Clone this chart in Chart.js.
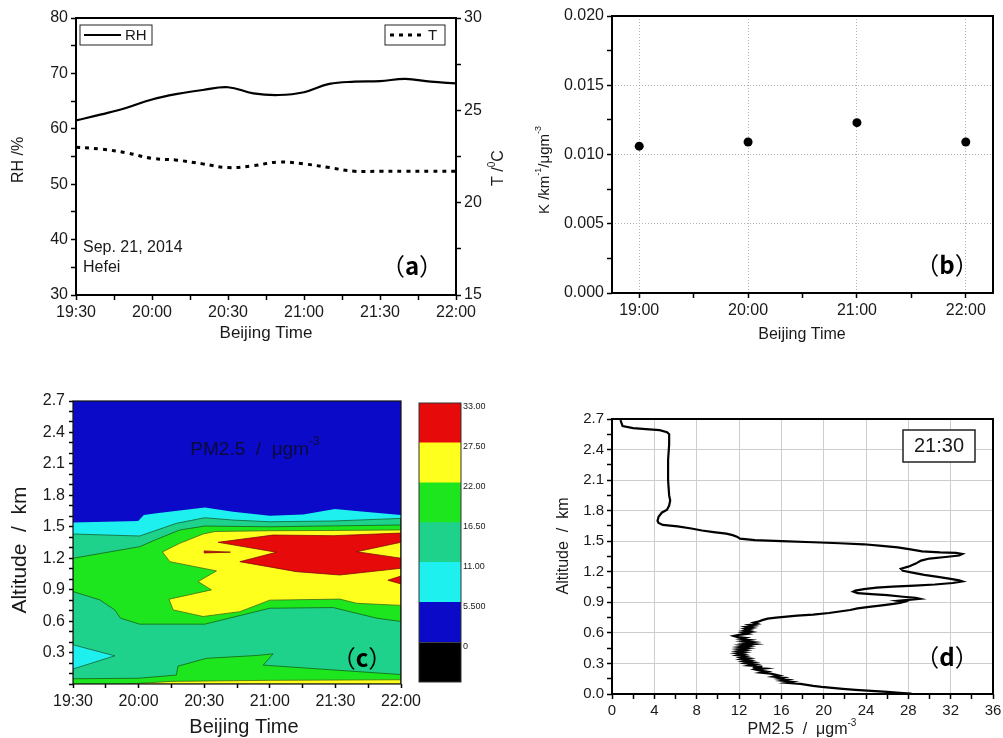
<!DOCTYPE html>
<html>
<head>
<meta charset="utf-8">
<script src="https://cdn.jsdelivr.net/npm/chart.js@4.4.1/dist/chart.umd.min.js"></script>
<style>
  body { margin: 0; background: #fff; }
  #page { position: relative; width: 1003px; height: 738px; overflow: hidden; background: #fff; }
  #page canvas { position: absolute; }
</style>
</head>
<body>
<div id="page">
  <canvas id="chartA" width="512" height="350" style="left:0;top:0"></canvas>
  <canvas id="chartB" width="503" height="350" style="left:500px;top:0"></canvas>
  <canvas id="chartC" width="430" height="358" style="left:0;top:380px"></canvas>
  <canvas id="chartBar" width="98" height="358" style="left:405px;top:380px"></canvas>
  <canvas id="chartD" width="503" height="358" style="left:500px;top:380px"></canvas>
</div>
<script>
// ---- (a) RH and temperature, Sep. 21, 2014, Hefei
const timesA = ['19:30', '19:40', '19:50', '20:00', '20:10', '20:20', '20:30', '20:40',
                '20:50', '21:00', '21:10', '21:20', '21:30', '21:40', '21:50', '22:00'];
const rhA = [61.5, 62.6, 63.8, 65.3, 66.3, 67.0, 67.5, 66.4, 66.1, 66.6, 68.1, 68.5, 68.6, 69.0, 68.5, 68.2];
const tempA = [23.0, 22.9, 22.7, 22.4, 22.3, 22.1, 21.9, 22.0, 22.2, 22.1, 21.9, 21.7, 21.7, 21.7, 21.7, 21.7];
const timeLabelsA = ['19:30', '20:00', '20:30', '21:00', '21:30', '22:00'];
const rhLabelsA = ['30', '40', '50', '60', '70', '80'];
const tLabelsA = ['15', '20', '25', '30'];

// ---- (b) K = extinction / PM2.5
const timesB = ['19:00', '20:00', '21:00', '22:00'];
const kB = [0.0106, 0.0109, 0.0123, 0.0109];
const timeLabelsB = ['19:00', '20:00', '21:00', '22:00'];
const kLabelsB = ['0.000', '0.005', '0.010', '0.015', '0.020'];

// ---- (c) PM2.5 contour, vertices as [minutes after 19:30, altitude km]
const timeLabelsC = ['19:30', '20:00', '20:30', '21:00', '21:30', '22:00'];
const altLabelsC = ['0.3', '0.6', '0.9', '1.2', '1.5', '1.8', '2.1', '2.4', '2.7'];
const levelsC = [-5.5, 0, 5.5, 11, 16.5, 22, 27.5, 33];
const levelLabelsC = ['', '0', '5.500', '11.00', '16.50', '22.00', '27.50', '33.00'];
const bandColorsC = ['#000000', '#0a0ac8', '#1ef0f0', '#1ed28c', '#1ee61e', '#ffff1e', '#e60a0a'];

const areaBlue = [[0, 0], [0, 2.7], [150, 2.7], [150, 0]];
const areaCyan = [[0, 0], [0, 1.54], [29.8, 1.555], [32.4, 1.612], [38.2, 1.628], [60.3, 1.685], [73.2, 1.643],
                  [90, 1.605], [105.3, 1.618], [119.8, 1.669], [128.2, 1.653], [150, 1.612], [150, 0]];
const areaTeal = [[0, 0], [0, 0.143], [19.1, 0.269], [0, 0.374], [0, 1.431], [30.5, 1.412], [47.3, 1.533],
                  [60.3, 1.586], [73.2, 1.564], [90, 1.548], [119, 1.555], [150, 1.58], [150, 0]];
const areaGreenLow = [[0, 0], [0, 0.05], [30, 0.055], [47.3, 0.085], [48, 0.17], [61, 0.245], [84, 0.272],
                      [91.5, 0.288], [87, 0.18], [150, 0.09], [150, 0]];
const areaGreenHigh = [[0, 0.882], [0, 1.2], [30.5, 1.31], [38.2, 1.38], [48.8, 1.469], [60.3, 1.507], [90, 1.5],
                       [150, 1.517], [150, 0.596], [138.9, 0.628], [119, 0.729], [90, 0.723], [60.3, 0.571],
                       [30.5, 0.571], [21.7, 0.628], [19.1, 0.707], [12.2, 0.803]];
const areaYellow = [[59.5, 1.431], [65, 1.455], [90, 1.462], [120, 1.465], [150, 1.47], [150, 0.75], [129.7, 0.77],
                    [122, 0.81], [90, 0.8], [76.3, 0.69], [59.5, 0.644], [45.8, 0.707], [43.9, 0.809], [63.3, 0.898],
                    [57.2, 0.977], [65.6, 1.079], [44.3, 1.167], [40.9, 1.26], [48.8, 1.342]];
const areaYellowLow = [[25, 0], [45, 0.025], [90, 0.035], [150, 0.04], [150, 0]];
const areaRed = [[66.4, 1.352], [91.5, 1.421], [119, 1.415], [150, 1.44], [150, 1.352], [129.7, 1.262], [150, 1.2],
                 [150, 1.104], [122, 1.04], [102.2, 1.072], [76.3, 1.167], [93, 1.257]];
const areaRedEdge = [[144, 0.99], [150, 1.03], [150, 0.955]];
const areaRedThin = [[60, 1.27], [72, 1.258], [60, 1.25]];

// ---- (d) PM2.5 profile at 21:30
const altD = [2.69, 2.66, 2.63, 2.61, 2.60, 2.59, 2.57, 2.55, 2.45, 2.30,
              2.10, 1.95, 1.90, 1.85, 1.81, 1.78, 1.74, 1.70, 1.68, 1.66,
              1.645, 1.625, 1.605, 1.59, 1.575, 1.56, 1.545, 1.525, 1.51, 1.50,
              1.49, 1.48, 1.47, 1.455, 1.44, 1.42, 1.40, 1.39, 1.385, 1.375,
              1.36, 1.345, 1.33, 1.31, 1.28, 1.25, 1.23, 1.21, 1.19, 1.17,
              1.15, 1.13, 1.115, 1.105, 1.09, 1.075, 1.065, 1.055, 1.045, 1.03,
              1.015, 1.005, 0.99, 0.98, 0.97, 0.955, 0.945, 0.935, 0.925, 0.915,
              0.905, 0.895, 0.885, 0.87, 0.855, 0.84, 0.825, 0.81, 0.795, 0.78,
              0.77, 0.76, 0.75, 0.74, 0.725, 0.71, 0.70, 0.69, 0.68, 0.67,
              0.66, 0.65, 0.64, 0.63, 0.62, 0.61, 0.60, 0.59, 0.58, 0.57,
              0.56, 0.55, 0.54, 0.53, 0.52, 0.51, 0.50, 0.49, 0.48, 0.47,
              0.46, 0.45, 0.44, 0.43, 0.42, 0.41, 0.40, 0.39, 0.38, 0.37,
              0.36, 0.35, 0.34, 0.33, 0.32, 0.31, 0.30, 0.29, 0.28, 0.27,
              0.26, 0.25, 0.24, 0.23, 0.22, 0.21, 0.20, 0.19, 0.18, 0.17,
              0.16, 0.15, 0.14, 0.13, 0.12, 0.11, 0.10, 0.09, 0.08, 0.07,
              0.06, 0.05, 0.04, 0.03, 0.02, 0.01, 0.005];
const pmD = [0.8, 0.9, 1.0, 2.0, 3.2, 4.5, 5.2, 5.4, 5.4, 5.3,
             5.3, 5.4, 5.5, 5.4, 5.2, 4.7, 4.4, 4.3, 4.4, 4.8,
             6.2, 7.5, 8.5, 9.6, 10.8, 11.4, 11.8, 12.1, 13.5, 16.0,
             19.0, 21.5, 23.8, 25.5, 27.0, 28.2, 29.3, 31.0, 32.5, 33.1,
             32.8, 31.5, 30.0, 29.2, 28.7, 28.0, 27.3, 27.5, 28.5, 29.5,
             30.8, 32.0, 32.8, 33.1, 32.2, 30.5, 28.6, 26.5, 25.0, 23.8,
             23.0, 22.8, 23.2, 24.5, 26.0, 27.5, 28.7, 29.1, 28.0, 27.0,
             27.6, 27.2, 26.6, 25.5, 24.3, 23.2, 22.5, 21.5, 20.5, 19.0,
             17.5, 16.5, 15.5, 14.7, 14.2, 13.8, 13.4, 13.7, 13.0, 13.4,
             12.7, 13.2, 12.6, 13.0, 12.5, 13.1, 12.4, 12.8, 12.0, 11.5,
             11.8, 12.6, 12.2, 13.0, 12.4, 13.3, 12.6, 13.4, 12.3, 12.9,
             12.1, 12.8, 12.0, 12.6, 11.9, 12.5, 11.8, 12.4, 11.9, 12.6,
             12.2, 12.9, 12.3, 13.0, 12.5, 13.3, 12.7, 13.5, 13.0, 14.2,
             13.3, 14.4, 13.6, 14.0, 14.6, 14.1, 15.0, 15.4, 15.8, 15.3,
             16.2, 15.8, 16.6, 16.1, 17.0, 16.5, 17.8, 18.4, 19.0, 19.8,
             20.8, 21.8, 23.0, 24.5, 26.0, 27.5, 28.3];
const pmLabelsD = ['0', '4', '8', '12', '16', '20', '24', '28', '32', '36'];
const altLabelsD = ['0.0', '0.3', '0.6', '0.9', '1.2', '1.5', '1.8', '2.1', '2.4', '2.7'];

// ---------------------------------------------------------------------------
const FONT = '"Liberation Sans", Arial, sans-serif';
const CJK = '"Noto Sans CJK SC", sans-serif';
const NONE = 'rgba(0,0,0,0)';

function toMin(t) { const [h, m] = t.split(':').map(Number); return h * 60 + m; }
function clock(v) { const h = Math.floor(v / 60), m = Math.round(v - h * 60); return h + ':' + String(m).padStart(2, '0'); }
function range(a, b, step) {
  const out = [];
  for (let i = 0; a + i * step <= b + 1e-9; i++) out.push(+(a + i * step).toFixed(6));
  return out;
}
function pickNum(v, labels) { return labels.find(l => Math.abs(parseFloat(l) - v) < 1e-6) || ''; }
function pickTime(v, labels) { const s = clock(v); return labels.includes(s) ? s : ''; }
// grid line only at labelled ticks inside the frame
function gridAt(labels, min, max, color, isTime) {
  return c => {
    if (!c.tick) return NONE;
    const v = c.tick.value;
    if (v <= min + 1e-9 || v >= max - 1e-9) return NONE;
    const hit = isTime ? pickTime(v, labels) : pickNum(v, labels);
    return hit ? color : NONE;
  };
}

function axis(o) {
  return {
    type: 'linear', position: o.position, min: o.min, max: o.max,
    afterBuildTicks: s => { s.ticks = o.ticks.map(v => ({ value: v })); },
    afterFit: s => {
      if (o.width != null) s.width = o.width;
      if (o.height != null) s.height = o.height;
      // the plot box is fixed, labels may hang over the edge
      s.paddingLeft = s.paddingRight = s.paddingTop = s.paddingBottom = 0;
    },
    ticks: {
      autoSkip: false, maxRotation: 0, minRotation: 0, color: '#1a1a1a',
      font: { family: FONT, size: o.size }, padding: o.padding ?? 3,
      labelOffset: o.labelOffset || 0, callback: o.label
    },
    grid: {
      drawOnChartArea: !!o.gridColor, color: o.gridColor || NONE, lineWidth: 1,
      drawTicks: o.drawTicks !== false, tickColor: '#000', tickWidth: 1.5, tickLength: o.tickLength ?? 5
    },
    border: { display: false, dash: o.dash || [] }
  };
}

// rich text: parts [{t, sup, bold, family}]
function drawRich(ctx, parts, x, y, size, opt) {
  ctx.save();
  ctx.translate(x, y);
  if (opt.rotate) ctx.rotate(opt.rotate);
  ctx.fillStyle = opt.color || '#1a1a1a';
  ctx.textBaseline = 'middle';
  ctx.textAlign = 'left';
  const fonts = parts.map(p => (p.bold ? 'bold ' : '') + (p.sup ? Math.round(size * 0.62) : size) + 'px ' + (p.family || FONT));
  let total = 0;
  const widths = parts.map((p, i) => { ctx.font = fonts[i]; const w = ctx.measureText(p.t).width; total += w; return w; });
  let cx = opt.align === 'left' ? 0 : -total / 2;
  parts.forEach((p, i) => {
    ctx.font = fonts[i];
    ctx.fillText(p.t, cx, p.sup ? -size * 0.42 : 0);
    cx += widths[i];
  });
  ctx.restore();
}

const decoPlugin = {
  id: 'deco',
  afterDraw(chart, args, o) {
    const ctx = chart.ctx, a = chart.chartArea;
    if (o.frame) {
      ctx.save();
      ctx.lineWidth = o.frame.width;
      ctx.strokeStyle = o.frame.color;
      ctx.strokeRect(a.left, a.top, a.right - a.left, a.bottom - a.top);
      ctx.restore();
    }
    (o.boxes || []).forEach(b => {
      ctx.save();
      ctx.fillStyle = '#fff';
      ctx.fillRect(b.x, b.y, b.w, b.h);
      ctx.lineWidth = b.lw || 1;
      ctx.strokeStyle = '#222';
      ctx.strokeRect(b.x, b.y, b.w, b.h);
      ctx.restore();
    });
    (o.samples || []).forEach(s => {
      ctx.save();
      ctx.lineWidth = s.width;
      ctx.strokeStyle = '#000';
      ctx.setLineDash(s.dash || []);
      ctx.beginPath();
      ctx.moveTo(s.x1, s.y);
      ctx.lineTo(s.x2, s.y);
      ctx.stroke();
      ctx.restore();
    });
    (o.texts || []).forEach(t => drawRich(ctx, t.parts, t.x, t.y, t.size, t));
  }
};
Chart.register(decoPlugin);

function txt(s, x, y, size, extra) { return Object.assign({ parts: [{ t: s }], x, y, size }, extra || {}); }
function tag(letter, x, y) {
  return { parts: [{ t: '（', family: CJK }, { t: letter, bold: true, family: CJK }, { t: '）', family: CJK }], x, y, size: 24, color: '#000' };
}
const UP = -Math.PI / 2;
const base = { responsive: false, animation: false, events: [], devicePixelRatio: 1 };
const noLegend = { legend: { display: false }, tooltip: { enabled: false } };

// ---- panel (a)
new Chart(document.getElementById('chartA'), {
  type: 'scatter',
  data: {
    datasets: [
      { label: 'RH', data: timesA.map((t, i) => ({ x: toMin(t), y: rhA[i] })), yAxisID: 'y', showLine: true,
        borderColor: '#000', borderWidth: 2.2, tension: 0.4, pointRadius: 0 },
      { label: 'T', data: timesA.map((t, i) => ({ x: toMin(t), y: tempA[i] })), yAxisID: 'y2', showLine: true,
        borderColor: '#000', borderWidth: 3, borderDash: [4, 5], tension: 0.4, pointRadius: 0 }
    ]
  },
  options: Object.assign({}, base, {
    layout: { padding: { top: 18, right: 0, bottom: 0, left: 0 } },
    scales: {
      x: axis({ position: 'bottom', min: 1170, max: 1320, ticks: range(1170, 1320, 15), size: 16, height: 55,
                label: v => pickTime(v, timeLabelsA) }),
      y: axis({ position: 'left', min: 30, max: 80, ticks: range(30, 80, 5), size: 16, width: 76,
                label: v => pickNum(v, rhLabelsA) }),
      y2: axis({ position: 'right', min: 15, max: 30, ticks: range(15, 30, 2.5), size: 16, width: 56,
                 label: v => pickNum(v, tLabelsA) })
    },
    plugins: Object.assign({}, noLegend, {
      deco: {
        frame: { width: 2, color: '#000' },
        boxes: [{ x: 80, y: 25, w: 72, h: 20 }, { x: 385, y: 25, w: 60, h: 20 }],
        samples: [{ x1: 84, x2: 121, y: 35, width: 2 }, { x1: 390, x2: 424, y: 35, width: 3, dash: [4, 5] }],
        texts: [
          txt('RH', 125, 36, 15, { align: 'left' }),
          txt('T', 428, 36, 15, { align: 'left' }),
          txt('Sep. 21, 2014', 83, 248, 16, { align: 'left' }),
          txt('Hefei', 83, 268, 16, { align: 'left' }),
          txt('RH /%', 19, 160, 16, { rotate: UP }),
          { parts: [{ t: 'T /' }, { t: '0', sup: true }, { t: 'C' }], x: 499, y: 168, size: 16, rotate: UP },
          txt('Beijing Time', 266, 333, 17),
          tag('a', 412, 266)
        ]
      }
    })
  })
});

// ---- panel (b)
new Chart(document.getElementById('chartB'), {
  type: 'scatter',
  data: {
    datasets: [
      { label: 'K', data: timesB.map((t, i) => ({ x: toMin(t), y: kB[i] })),
        pointRadius: 4.5, pointBackgroundColor: '#000', pointBorderColor: '#000', pointBorderWidth: 0 }
    ]
  },
  options: Object.assign({}, base, {
    layout: { padding: { top: 16, right: 10, bottom: 0, left: 0 } },
    scales: {
      x: axis({ position: 'bottom', min: 1125, max: 1335, ticks: range(1140, 1320, 30), size: 16, height: 57,
                label: v => pickTime(v, timeLabelsB), gridColor: gridAt(timeLabelsB, 1125, 1335, '#b4b4b4', true),
                dash: [1, 2] }),
      y: axis({ position: 'left', min: 0, max: 0.02, ticks: range(0, 0.02, 0.0025), size: 16, width: 112,
                label: v => pickNum(v, kLabelsB), gridColor: gridAt(kLabelsB, 0, 0.02, '#b4b4b4'), dash: [1, 2] })
    },
    plugins: Object.assign({}, noLegend, {
      deco: {
        frame: { width: 2, color: '#000' },
        texts: [
          { parts: [{ t: 'K /km' }, { t: '-1', sup: true }, { t: '/μgm' }, { t: '-3', sup: true }], x: 45, y: 170, size: 15, rotate: UP },
          txt('Beijing Time', 302, 335, 16),
          tag('b', 447, 265)
        ]
      }
    })
  })
});

// ---- panel (c) contour
const T0 = toMin('19:30');
const layersC = [
  { pts: areaBlue, color: bandColorsC[1], line: NONE },
  { pts: areaCyan, color: bandColorsC[2], line: NONE },
  { pts: areaTeal, color: bandColorsC[3], line: 'rgba(20,90,40,0.75)' },
  { pts: areaGreenLow, color: bandColorsC[4], line: 'rgba(20,90,20,0.75)' },
  { pts: areaGreenHigh, color: bandColorsC[4], line: 'rgba(20,90,20,0.75)' },
  { pts: areaYellow, color: bandColorsC[5], line: 'rgba(60,100,20,0.75)' },
  { pts: areaYellowLow, color: bandColorsC[5], line: 'rgba(60,100,20,0.75)' },
  { pts: areaRed, color: bandColorsC[6], line: 'rgba(120,10,10,0.75)' },
  { pts: areaRedEdge, color: bandColorsC[6], line: 'rgba(120,10,10,0.75)' },
  { pts: areaRedThin, color: bandColorsC[6], line: 'rgba(120,10,10,0.75)' }
];
new Chart(document.getElementById('chartC'), {
  type: 'scatter',
  data: {
    datasets: layersC.map((L, i) => ({
      data: L.pts.concat([L.pts[0]]).map(([m, a]) => ({ x: T0 + m, y: a })),
      showLine: true, fill: 'shape', backgroundColor: L.color, borderColor: L.line, borderWidth: 1,
      pointRadius: 0, tension: 0, order: layersC.length - i
    }))
  },
  options: Object.assign({}, base, {
    layout: { padding: { top: 21, right: 29, bottom: 0, left: 0 } },
    scales: {
      x: axis({ position: 'bottom', min: 1170, max: 1320, ticks: range(1170, 1320, 15), size: 16, height: 54,
                padding: 4, tickLength: 4, label: v => pickTime(v, timeLabelsC) }),
      y: axis({ position: 'left', min: 0, max: 2.7, ticks: range(0, 2.7, 0.1), size: 16, width: 73,
                padding: 4, tickLength: 4, label: v => pickNum(v, altLabelsC) })
    },
    plugins: Object.assign({}, noLegend, {
      filler: { propagate: false },
      deco: {
        frame: { width: 1.2, color: '#111' },
        texts: [
          { parts: [{ t: 'PM2.5  /  μgm' }, { t: '-3', sup: true }], x: 255, y: 70, size: 19, color: '#0b0b3a' },
          txt('Altitude  /  km', 20, 170, 21, { rotate: UP }),
          txt('Beijing Time', 244, 347, 20),
          tag('c', 362, 278)
        ]
      }
    })
  })
});

// ---- colour bar of (c)
new Chart(document.getElementById('chartBar'), {
  type: 'bar',
  data: {
    labels: ['PM2.5'],
    datasets: bandColorsC.map((c, i) => ({
      label: levelLabelsC[i + 1], data: [[levelsC[i], levelsC[i + 1]]], backgroundColor: c,
      grouped: false, barPercentage: 1, categoryPercentage: 1, borderWidth: 0
    }))
  },
  options: Object.assign({}, base, {
    layout: { padding: { top: 23, right: 0, bottom: 56, left: 14 } },
    scales: {
      x: { display: false },
      y: axis({ position: 'right', min: -5.5, max: 33, ticks: levelsC, size: 9, width: 42, padding: 2,
                drawTicks: false, labelOffset: 4, label: (v, i) => levelLabelsC[i] })
    },
    plugins: Object.assign({}, noLegend, { deco: { frame: { width: 1, color: '#333' } } })
  })
});

// ---- panel (d) profile
new Chart(document.getElementById('chartD'), {
  type: 'scatter',
  data: {
    datasets: [
      { label: '21:30', data: altD.map((a, i) => ({ x: pmD[i], y: a })), showLine: true,
        borderColor: '#000', borderWidth: 2.2, pointRadius: 0, tension: 0 }
    ]
  },
  options: Object.assign({}, base, {
    layout: { padding: { top: 39, right: 10, bottom: 0, left: 0 } },
    scales: {
      x: axis({ position: 'bottom', min: 0, max: 36, ticks: range(0, 36, 2), size: 15, height: 44,
                label: v => pickNum(v, pmLabelsD), gridColor: gridAt(pmLabelsD, 0, 36, '#cdcdcd') }),
      y: axis({ position: 'left', min: 0, max: 2.7, ticks: range(0, 2.7, 0.15), size: 15, width: 112,
                label: v => pickNum(v, altLabelsD), gridColor: gridAt(altLabelsD, 0, 2.7, '#cdcdcd') })
    },
    plugins: Object.assign({}, noLegend, {
      deco: {
        frame: { width: 2, color: '#000' },
        boxes: [{ x: 403, y: 50, w: 72, h: 32, lw: 1.5 }],
        texts: [
          txt('21:30', 439, 66, 20),
          txt('Altitude  /  km', 64, 166, 16, { rotate: UP }),
          { parts: [{ t: 'PM2.5  /  μgm' }, { t: '-3', sup: true }], x: 302, y: 350, size: 16 },
          tag('d', 447, 277)
        ]
      }
    })
  })
});
</script>
</body>
</html>
